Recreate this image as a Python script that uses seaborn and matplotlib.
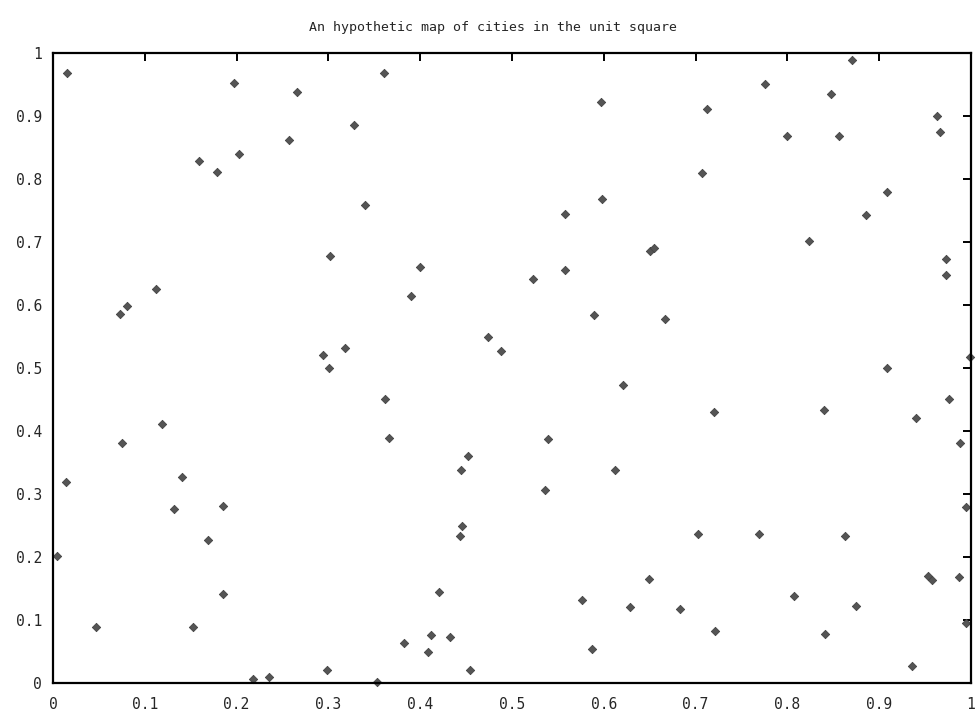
import matplotlib
matplotlib.use("Agg")
import matplotlib.pyplot as plt
import seaborn as sns
import pandas as pd

city_x = [0.0156, 0.197, 0.266, 0.257, 0.159, 0.203, 0.179, 0.302, 0.1125, 0.0733,
          0.081, 0.294, 0.318, 0.3007, 0.361, 0.597, 0.3276, 0.3395, 0.598, 0.558,
          0.3998, 0.5577, 0.5225, 0.650, 0.655, 0.3896, 0.589, 0.4735, 0.488, 0.776,
          0.848, 0.7128, 0.9626, 0.9666, 0.800, 0.8566, 0.7066, 0.9088, 0.886, 0.823,
          0.9724, 0.9728, 0.6667, 0.908, 0.999, 0.870, 0.119, 0.0748, 0.0142, 0.1409,
          0.1318, 0.1855, 0.1685, 0.004, 0.185, 0.047, 0.1525, 0.298, 0.2353, 0.218,
          0.6205, 0.3617, 0.3664, 0.539, 0.4517, 0.444, 0.612, 0.536, 0.446, 0.443,
          0.420, 0.576, 0.6285, 0.412, 0.4328, 0.3824, 0.4085, 0.5868, 0.4539, 0.649,
          0.3526, 0.9757, 0.720, 0.840, 0.940, 0.9877, 0.9942, 0.7022, 0.7687, 0.863,
          0.953, 0.957, 0.987, 0.683, 0.8068, 0.875, 0.7211, 0.8406, 0.9942, 0.936]
city_y = [0.969, 0.953, 0.938, 0.862, 0.829, 0.839, 0.811, 0.678, 0.626, 0.586,
          0.598, 0.521, 0.531, 0.5005, 0.968, 0.923, 0.885, 0.758, 0.769, 0.745,
          0.661, 0.6556, 0.6406, 0.686, 0.691, 0.615, 0.584, 0.550, 0.527, 0.951,
          0.935, 0.911, 0.900, 0.8746, 0.868, 0.868, 0.810, 0.779, 0.743, 0.702,
          0.673, 0.6476, 0.578, 0.4995, 0.518, 0.989, 0.4106, 0.381, 0.3196, 0.3264,
          0.2757, 0.2815, 0.227, 0.202, 0.142, 0.0894, 0.0894, 0.0206, 0.010, 0.006,
          0.473, 0.451, 0.389, 0.388, 0.360, 0.338, 0.338, 0.306, 0.2487, 0.234,
          0.144, 0.1317, 0.1206, 0.076, 0.0735, 0.0635, 0.050, 0.0534, 0.0206, 0.165,
          0.002, 0.4508, 0.4297, 0.4333, 0.421, 0.3815, 0.2799, 0.236, 0.236, 0.2333,
          0.170, 0.163, 0.1688, 0.1175, 0.1386, 0.1222, 0.083, 0.0773, 0.0947, 0.027]

tick_values = [0, 0.1, 0.2, 0.3, 0.4, 0.5, 0.6, 0.7, 0.8, 0.9, 1]
tick_labels = ["0", "0.1", "0.2", "0.3", "0.4", "0.5", "0.6", "0.7", "0.8", "0.9", "1"]
title_text = "An hypothetic map of cities in the unit square"

df = pd.DataFrame({"x": city_x, "y": city_y})

sns.set_style("white")
plt.rcParams["font.family"] = ["DejaVu Sans Mono", "DejaVu Sans"]

fig = plt.figure(figsize=(9.8, 7.22), dpi=100)
ax = fig.add_axes([53 / 980, 39 / 722, 918 / 980, 630 / 722])

sns.scatterplot(data=df, x="x", y="y", ax=ax, marker="D", s=18,
                color="#555555", edgecolor="#444444", linewidth=0.6, clip_on=False)

ax.set_xlim(0, 1)
ax.set_ylim(0, 1)
ax.set_xticks(tick_values)
ax.set_xticklabels(tick_labels)
ax.set_yticks(tick_values)
ax.set_yticklabels(tick_labels)
ax.set_xlabel("")
ax.set_ylabel("")
ax.tick_params(axis="both", direction="in", length=6, width=1.4, color="black",
               labelsize=10.5, top=True, right=True, pad=8)
ax.tick_params(axis="x", pad=10)
for sp in ax.spines.values():
    sp.set_visible(True)
    sp.set_linewidth(1.6)
    sp.set_color("black")

fig.text(493 / 980, 1 - 27 / 722, title_text, ha="center", va="center", fontsize=9.5)

fig.savefig("out.png", dpi=100)
